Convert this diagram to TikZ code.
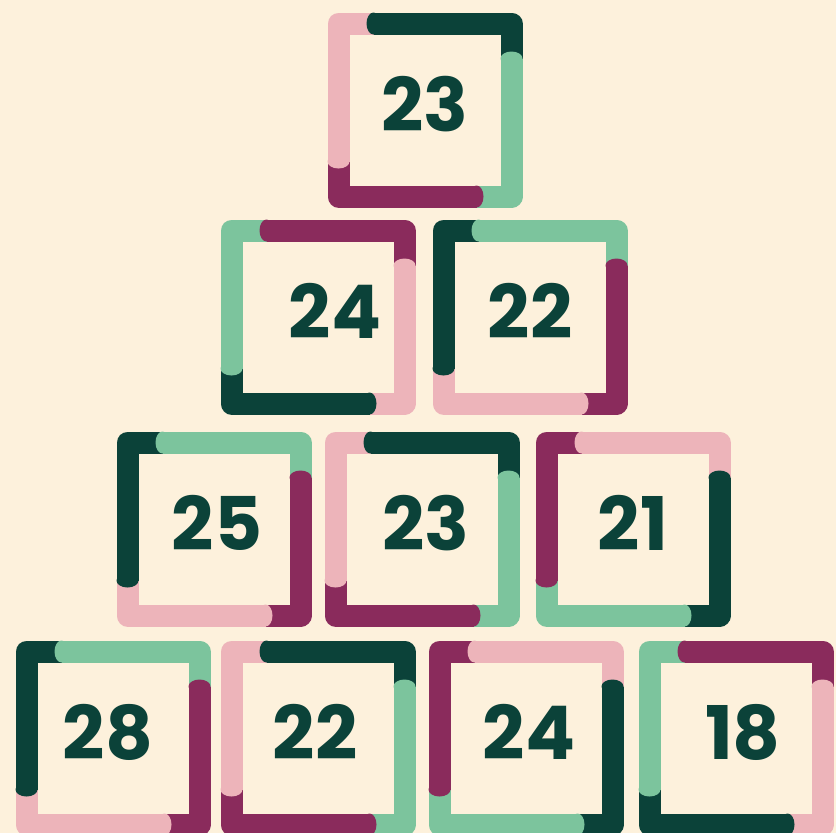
\documentclass[tikz,border=0pt]{standalone}
\usepackage{fontspec}
\setmainfont{Poppins}
\usepackage{xcolor}
\definecolor{cream}{RGB}{253,241,220}
\definecolor{deepgreen}{RGB}{11,66,57}
\definecolor{mint}{RGB}{124,196,157}
\definecolor{rosepink}{RGB}{237,180,186}
\definecolor{plum}{RGB}{138,43,92}
\tikzset{
  % one coloured piece of a frame
  framepiece/.style={line width=22pt, line join=round, line cap=butt, draw=#1},
  % rounded head of a piece, laid over the piece before it
  piecehead/.style={fill=#1, draw=none},
  boxnum/.style={font=\fontsize{74}{74}\selectfont\bfseries, text=deepgreen,
    inner sep=0pt, anchor=center}
}

\begin{document}
\begin{tikzpicture}[x=1pt, y=-1pt]
  \useasboundingbox (0,0) rectangle (836,833);
  \fill[cream] (0,0) rectangle (836,833);

  % boxes: centre / corner colours TL,TR,BR,BL / number / shift / name
  \foreach \cx/\cy/\ca/\cb/\cc/\cd/\num/\dx/\nm in {
      425/110/rosepink/deepgreen/mint/plum/23/0/top,
      318/317/mint/plum/rosepink/deepgreen/24/17/rowbl,
      530/317/deepgreen/mint/plum/rosepink/22/0/rowbr,
      214/529/deepgreen/mint/plum/rosepink/25/3/rowcl,
      422/529/rosepink/deepgreen/mint/plum/23/4/rowcm,
      633/529/plum/rosepink/deepgreen/mint/21/0/rowcr,
      113/738/deepgreen/mint/plum/rosepink/28/-5/rowda,
      318/738/rosepink/deepgreen/mint/plum/22/-3/rowdb,
      526/738/plum/rosepink/deepgreen/mint/24/3/rowdc,
      736/738/mint/plum/rosepink/deepgreen/18/7/rowdd}{
    \draw[framepiece=\ca] (\cx-86.5,\cy+51.5) -- (\cx-86.5,\cy-86.5) -- (\cx-51.5,\cy-86.5);
    \draw[framepiece=\cb] (\cx-51.5,\cy-86.5) -- (\cx+86.5,\cy-86.5) -- (\cx+86.5,\cy-51.5);
    \draw[framepiece=\cc] (\cx+86.5,\cy-51.5) -- (\cx+86.5,\cy+86.5) -- (\cx+51.5,\cy+86.5);
    \draw[framepiece=\cd] (\cx+51.5,\cy+86.5) -- (\cx-86.5,\cy+86.5) -- (\cx-86.5,\cy+51.5);
    \fill[piecehead=\ca] (\cx-86.5,\cy+51.5) ellipse[x radius=11pt, y radius=7pt];
    \fill[piecehead=\cb] (\cx-51.5,\cy-86.5) ellipse[x radius=7pt, y radius=11pt];
    \fill[piecehead=\cc] (\cx+86.5,\cy-51.5) ellipse[x radius=11pt, y radius=7pt];
    \fill[piecehead=\cd] (\cx+51.5,\cy+86.5) ellipse[x radius=7pt, y radius=11pt];
    \node[boxnum] (\nm) at (\cx+\dx,\cy-6) {\num};
  }
\end{tikzpicture}
\end{document}
